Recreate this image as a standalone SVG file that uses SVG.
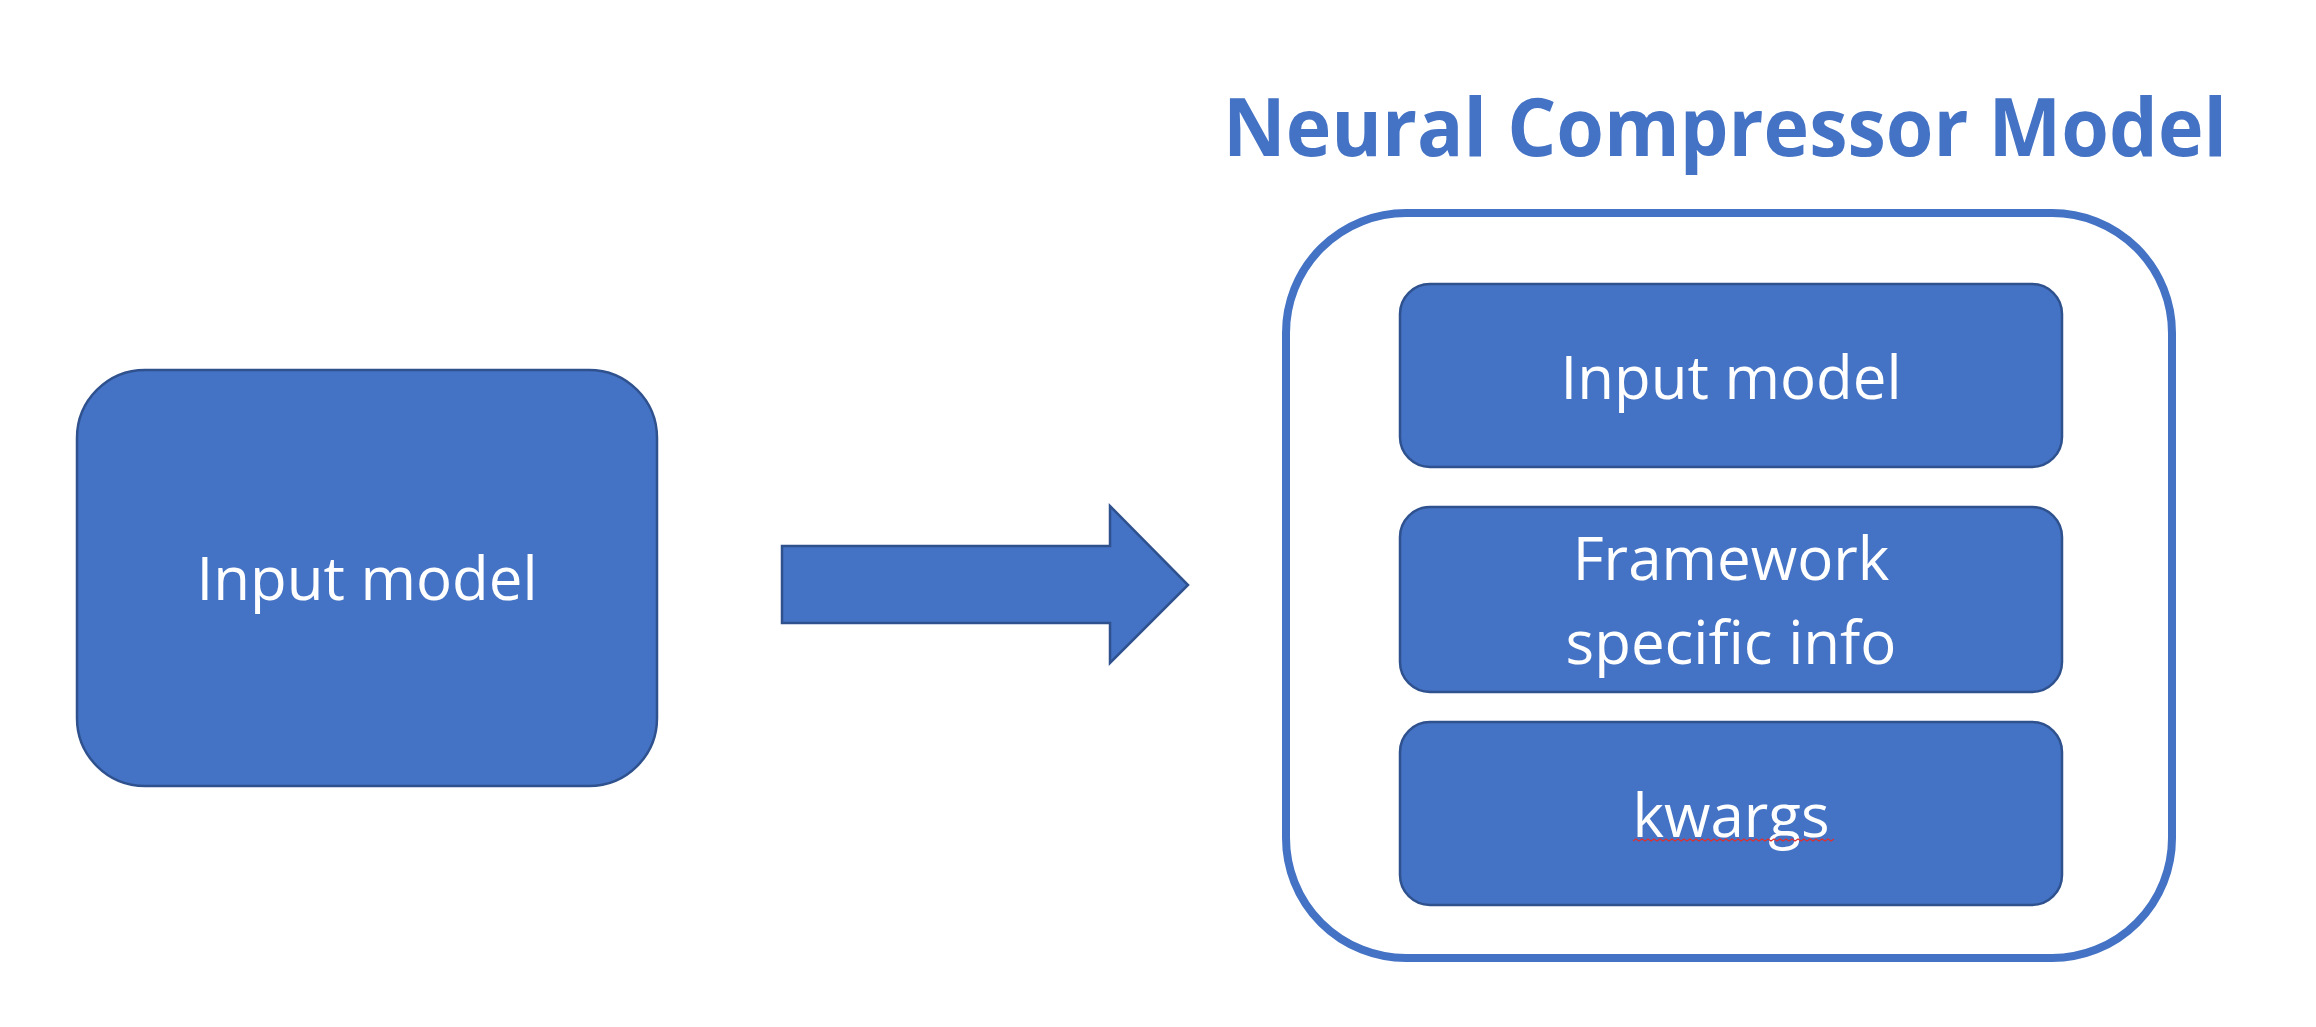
<svg xmlns="http://www.w3.org/2000/svg" width="2316" height="1027" viewBox="0 0 2316 1027">
<style>
.blk{fill:#4472C4;stroke:#2F528F;stroke-width:2.5}
.lbl{font-family:"Open Sans","Noto Sans","Liberation Sans",sans-serif;font-size:60px;fill:#FFFFFF;text-anchor:middle}
.title{font-family:"Open Sans","Noto Sans","Liberation Sans",sans-serif;font-weight:bold;font-size:81px;fill:#4472C4;text-anchor:middle}
</style>
<rect width="2316" height="1027" fill="#FFFFFF"/>
<g id="input-model">
<rect class="blk" x="77" y="370" width="580" height="416" rx="68" ry="68"/>
<text class="lbl" x="367" y="600">Input model</text>
</g>
<g id="connectors">
<path class="blk" d="M782 546 L1110 546 L1110 506 L1188 585 L1110 663 L1110 623 L782 623 Z"/>
</g>
<g id="neural-compressor-model">
<text class="title" x="1725" y="156" textLength="1004" lengthAdjust="spacingAndGlyphs">Neural Compressor Model</text>
<rect x="1286" y="213" width="886" height="745" rx="120" ry="120" fill="#FFFFFF" stroke="#4472C4" stroke-width="8"/>
<g id="inner-input-model">
<rect class="blk" x="1400" y="284" width="662" height="183" rx="30" ry="30"/>
<text class="lbl" x="1731" y="399">Input model</text>
</g>
<g id="framework-info">
<rect class="blk" x="1400" y="507" width="662" height="185" rx="30" ry="30"/>
<text class="lbl" x="1731" y="580">Framework</text>
<text class="lbl" x="1731" y="664">specific info</text>
</g>
<g id="kwargs">
<rect class="blk" x="1400" y="722" width="662" height="183" rx="30" ry="30"/>
<text class="lbl" x="1731" y="837">kwargs</text>
<path d="M1633 841 l3 -2 l3 2 l3 -2 l3 2 l3 -2 l3 2 l3 -2 l3 2 l3 -2 l3 2 l3 -2 l3 2 l3 -2 l3 2 l3 -2 l3 2 l3 -2 l3 2 l3 -2 l3 2 l3 -2 l3 2 l3 -2 l3 2 l3 -2 l3 2 l3 -2 l3 2 l3 -2 l3 2 l3 -2 l3 2 l3 -2 l3 2 l3 -2 l3 2 l3 -2 l3 2 l3 -2 l3 2 l3 -2 l3 2 l3 -2 l3 2 l3 -2 l3 2 l3 -2 l3 2 l3 -2 l3 2 l3 -2 l3 2 l3 -2 l3 2 l3 -2 l3 2 l3 -2 l3 2 l3 -2 l3 2 l3 -2 l3 2 l3 -2 l3 2 l3 -2 l3 2 l3 -2" fill="none" stroke="#E03030" stroke-width="1.2"/>
</g>
</g>
</svg>
